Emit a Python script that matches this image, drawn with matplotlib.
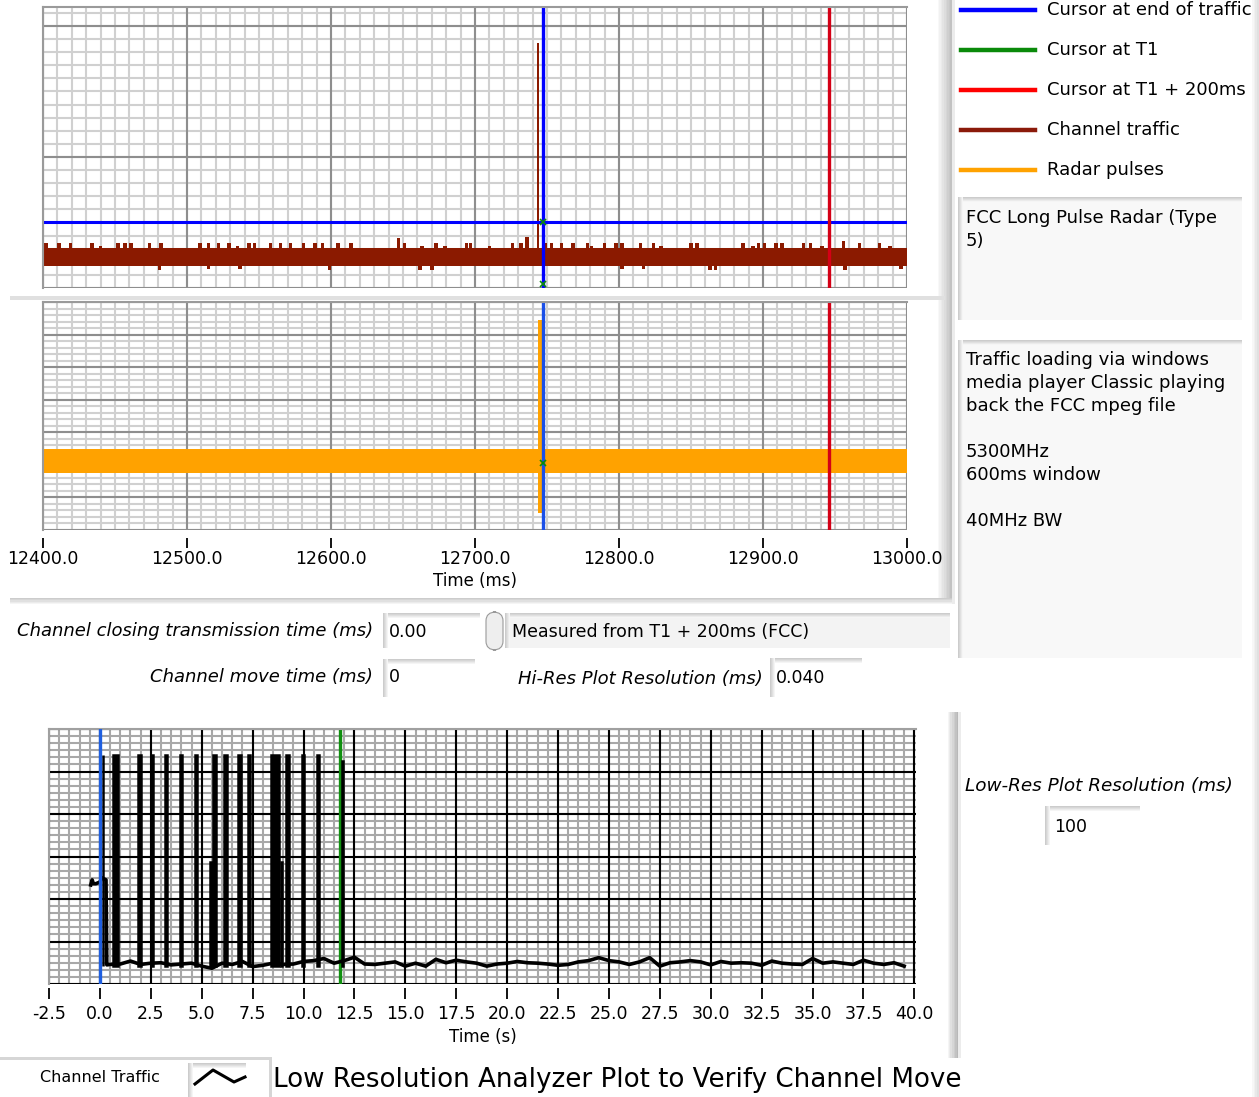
import numpy as np
import matplotlib
matplotlib.use("Agg")
import matplotlib.pyplot as plt
from matplotlib.patches import Rectangle, FancyBboxPatch
from matplotlib.lines import Line2D
from matplotlib.ticker import MultipleLocator, FormatStrFormatter

# --- CONFIGURACION ---
W, H = 1259, 1097
FONT = "DejaVu Sans"

# --- DATOS: ventana de alta resolucion (ms) ---
HI_XMIN, HI_XMAX = 12400.0, 13000.0
CURSOR_END = 12747.0        # cursor azul (fin de trafico)
CURSOR_T1_200 = 12946.0     # cursor rojo (T1 + 200 ms)
CURSOR_LEVEL = 0.50         # cursor azul horizontal

TRAFFIC_LOW, TRAFFIC_HIGH = 0.168, 0.303
traffic_up_t = [12402, 12411, 12419, 12434, 12440, 12452, 12457, 12461, 12474, 12482,
                12509, 12515, 12522, 12529, 12535, 12543, 12547, 12558, 12565, 12572,
                12581, 12589, 12594, 12605, 12614, 12647, 12651, 12663, 12673, 12679,
                12694, 12697, 12710, 12726, 12732, 12736, 12749, 12753, 12760, 12768,
                12778, 12781, 12790, 12798, 12802, 12815, 12824, 12829, 12850, 12854,
                12886, 12893, 12897, 12901, 12909, 12913, 12928, 12933, 12941, 12956,
                12967, 12981, 12988]
traffic_up_h = [0.345, 0.345, 0.345, 0.345, 0.32, 0.345, 0.34, 0.345, 0.345, 0.345,
                0.345, 0.345, 0.345, 0.345, 0.32, 0.345, 0.34, 0.345, 0.345, 0.345,
                0.345, 0.345, 0.345, 0.345, 0.345, 0.385, 0.345, 0.32, 0.345, 0.32,
                0.345, 0.345, 0.32, 0.345, 0.345, 0.39, 0.345, 0.345, 0.345, 0.345,
                0.345, 0.32, 0.345, 0.345, 0.345, 0.345, 0.345, 0.32, 0.345, 0.345,
                0.345, 0.32, 0.345, 0.345, 0.345, 0.345, 0.345, 0.345, 0.32, 0.36,
                0.345, 0.345, 0.32]
traffic_dip_t = [12481, 12515, 12537, 12599, 12662, 12670, 12802, 12817, 12863, 12867,
                 12957, 12996]
traffic_dip_h = [0.14, 0.145, 0.145, 0.14, 0.14, 0.14, 0.145, 0.145, 0.14, 0.14,
                 0.14, 0.145]
TRAFFIC_BURST_T, TRAFFIC_BURST_H = 12744.0, 1.87

RADAR_LOW, RADAR_HIGH = 1.75, 2.48
radar_pulse_t = [12745.2, 12747.6]
radar_pulse_top = [6.44, 6.65]
radar_pulse_bottom = [0.52, 0.52]

# --- DATOS: ventana de baja resolucion (s) ---
LOW_CURSOR_END = 0.0
LOW_CURSOR_T1 = 11.81
lowres_lead_t = [-0.45, -0.38, -0.32, -0.2, 0.0, 0.1, 0.3, 0.34]
lowres_lead_v = [2.33, 2.45, 2.36, 2.36, 2.40, 2.50, 2.45, 0.45]
LOWRES_T0, LOWRES_DT = 0.5, 0.5
lowres_base = [0.46, 0.47, 0.54, 0.46, 0.49, 0.50, 0.45, 0.47, 0.49, 0.42, 0.37, 0.49,
               0.46, 0.53, 0.41, 0.44, 0.49, 0.46, 0.47, 0.53, 0.55, 0.60, 0.49, 0.55,
               0.63, 0.47, 0.46, 0.49, 0.52, 0.42, 0.49, 0.42, 0.58, 0.50, 0.56, 0.52,
               0.49, 0.42, 0.47, 0.49, 0.53, 0.50, 0.49, 0.47, 0.44, 0.46, 0.52, 0.55,
               0.62, 0.55, 0.52, 0.46, 0.52, 0.62, 0.42, 0.50, 0.52, 0.55, 0.52, 0.45,
               0.53, 0.49, 0.50, 0.49, 0.44, 0.54, 0.49, 0.47, 0.46, 0.60, 0.49, 0.52,
               0.49, 0.46, 0.56, 0.49, 0.46, 0.50, 0.42]
lowres_pulse_t = [0.16, 0.76, 1.94, 2.56, 3.25, 3.99, 4.72, 5.46, 5.62, 6.16, 6.85, 7.31,
                  8.58, 8.91, 9.22, 9.98, 10.72, 11.9]
lowres_pulse_h = [5.39, 5.39, 5.39, 5.39, 5.39, 5.39, 5.39, 2.88, 5.39, 5.39, 5.39, 5.39,
                  5.39, 2.88, 5.39, 5.39, 5.39, 5.25]
lowres_pulse_w = [0.03, 0.22, 0.12, 0.12, 0.12, 0.12, 0.12, 0.06, 0.12, 0.12, 0.12, 0.12,
                  0.4, 0.08, 0.12, 0.12, 0.12, 0.03]

legend_labels = ["Cursor at end of traffic", "Cursor at T1", "Cursor at T1 + 200ms",
                 "Channel traffic", "Radar pulses"]
legend_colors = ["#0000ff", "#0a8a0a", "#ff0000", "#8b1a0a", "#ffa200"]

BLUE, RED, GREEN = "#0000ff", "#d40016", "#0a8a0a"
TRAFFIC_RED, ORANGE = "#8b1a00", "#ffa200"

plt.rcParams["font.family"] = [FONT]

fig = plt.figure(figsize=(W / 100, H / 100), dpi=100)
fig.patch.set_facecolor("white")


def rect(x0, y0, x1, y1):
    return [x0 / W, 1 - y1 / H, (x1 - x0) / W, (y1 - y0) / H]


def frect(x0, y0, x1, y1, color, z=-5):
    fig.add_artist(Rectangle((x0 / W, 1 - y1 / H), (x1 - x0) / W, (y1 - y0) / H,
                             transform=fig.transFigure, facecolor=color,
                             edgecolor="none", zorder=z))


def grad(x0, y0, x1, y1, g0, g1, horizontal=True, n=8):
    for i in range(n):
        g = g0 + (g1 - g0) * i / (n - 1)
        if horizontal:
            frect(x0 + (x1 - x0) * i / n, y0, x0 + (x1 - x0) * (i + 1) / n, y1, (g, g, g))
        else:
            frect(x0, y0 + (y1 - y0) * i / n, x1, y0 + (y1 - y0) * (i + 1) / n, (g, g, g))


def inset_box(x0, y0, x1, y1, fill="#f8f8f8"):
    frect(x0, y0, x1, y1, fill)
    grad(x0, y0, x1, y0 + 5, 0.80, 0.96, horizontal=False, n=5)
    grad(x0, y0, x0 + 5, y1, 0.80, 0.96, horizontal=True, n=5)


def ftext(x, y, s, **kw):
    kw.setdefault("va", "center")
    return fig.text(x / W, 1 - y / H, s, **kw)


def grafico(box, xlim, ylim, xmaj, xmin, ymaj, ymin, c_major, c_minor, c_frame):
    # fondo con la rejilla menor, y encima los ejes con la rejilla mayor y los datos
    bg = fig.add_axes(rect(*box), zorder=0)
    ax = fig.add_axes(rect(*box), zorder=1)
    for a in (bg, ax):
        a.set_xlim(*xlim)
        a.set_ylim(*ylim)
        a.xaxis.set_major_locator(MultipleLocator(xmaj))
        a.xaxis.set_minor_locator(MultipleLocator(xmin))
        a.yaxis.set_major_locator(MultipleLocator(ymaj))
        a.yaxis.set_minor_locator(MultipleLocator(ymin))
        a.tick_params(axis="y", which="both", length=0, labelleft=False)
        a.spines["right"].set_visible(False)
        a.spines["bottom"].set_visible(False)
    bg.grid(which="both", color=c_minor, lw=1.5)
    bg.tick_params(axis="x", which="both", length=0, labelbottom=False)
    bg.spines["left"].set_visible(False)
    bg.spines["top"].set_visible(False)
    ax.set_facecolor("none")
    ax.grid(which="major", color=c_major, lw=1.5)
    ax.set_axisbelow(True)
    for s in ("left", "top"):
        ax.spines[s].set_color(c_frame)
        ax.spines[s].set_linewidth(1.5)
    return ax


# --- PANELES / BISELES ---
grad(936, 0, 952, 604, 1.0, 0.76, horizontal=True, n=10)
frect(952, 0, 955, 604, "#ececec")
grad(10, 598, 952, 605, 0.80, 1.0, horizontal=False, n=6)
frect(10, 296, 945, 300, "#e0e0e0")
grad(946, 712, 958, 1058, 1.0, 0.72, horizontal=True, n=8)
frect(958, 712, 961, 1058, "#ececec")
frect(0, 1057, 272, 1060, "#d6d6d6")
frect(269, 1057, 272, 1097, "#d6d6d6")
grad(1250, 0, 1259, H, 1.0, 0.88, horizontal=True, n=5)

# --- GRAFICO 1: trafico de canal ---
ax1 = grafico((43, 7, 907, 288), (HI_XMIN, HI_XMAX), (0, 2.145), 100, 10, 1, 0.1,
              "#8e8e8e", "#d0d0d0", "#9a9a9a")
ax1.tick_params(axis="x", which="both", length=0, labelbottom=False)

ax1.fill_between([HI_XMIN, HI_XMAX], TRAFFIC_LOW, TRAFFIC_HIGH, color=TRAFFIC_RED, lw=0)
ax1.bar(traffic_up_t, np.array(traffic_up_h) - TRAFFIC_HIGH + 0.01, bottom=TRAFFIC_HIGH - 0.01,
        width=2.5, color=TRAFFIC_RED, lw=0)
ax1.bar(traffic_dip_t, TRAFFIC_LOW + 0.01 - np.array(traffic_dip_h), bottom=traffic_dip_h,
        width=2.5, color=TRAFFIC_RED, lw=0)
ax1.bar([TRAFFIC_BURST_T], [TRAFFIC_BURST_H - TRAFFIC_HIGH], bottom=TRAFFIC_HIGH,
        width=1.3, color=TRAFFIC_RED, lw=0)
ax1.axhline(CURSOR_LEVEL, color=BLUE, lw=2.2)
ax1.axvline(CURSOR_END, color=BLUE, lw=2.4)
ax1.axvline(CURSOR_T1_200, color=RED, lw=2.4)
ax1.plot([CURSOR_END], [CURSOR_LEVEL], marker="x", color=GREEN, ms=5, mew=1.2)
ax1.plot([CURSOR_END], [0.03], marker="x", color=GREEN, ms=4, mew=1.2, clip_on=False)

# --- GRAFICO 2: pulsos de radar ---
ax2 = grafico((43, 302, 907, 530), (HI_XMIN, HI_XMAX), (0, 7), 100, 10, 1, 0.2,
              "#8e8e8e", "#d0d0d0", "#9a9a9a")
ax2.spines["bottom"].set_position(("outward", 6))
ax2.xaxis.set_major_formatter(FormatStrFormatter("%.1f"))
ax2.tick_params(axis="x", which="major", direction="out", length=7, width=1.3,
                color="black", pad=1.5, labelsize=12.5)
ax2.tick_params(axis="x", which="minor", length=0)
ax2.set_xlabel("Time (ms)", fontsize=12, labelpad=3)

ax2.fill_between([HI_XMIN, HI_XMAX], RADAR_LOW, RADAR_HIGH, color=ORANGE, lw=0)
ax2.bar(radar_pulse_t, np.array(radar_pulse_top) - np.array(radar_pulse_bottom),
        bottom=radar_pulse_bottom, width=2.6, color=ORANGE, lw=0)
ax2.axvline(CURSOR_END, color="#1a4fe8", lw=2.4)
ax2.axvline(CURSOR_T1_200, color=RED, lw=2.4)
ax2.plot([CURSOR_END], [2.05], marker="x", color=GREEN, ms=5, mew=1.2)

# --- GRAFICO 3: baja resolucion ---
lowres_t = LOWRES_T0 + LOWRES_DT * np.arange(len(lowres_base))
trace_t = np.concatenate([lowres_lead_t, lowres_t])
trace_v = np.concatenate([lowres_lead_v, lowres_base])

ax3 = grafico((49, 729, 916, 984), (-2.5, 40.08), (0, 6), 2.5, 0.5, 1, 1 / 6,
              "black", "#a8a8a8", "#a0a0a0")
ax3.spines["bottom"].set_position(("outward", 3))
ax3.xaxis.set_major_formatter(FormatStrFormatter("%.1f"))
ax3.tick_params(axis="x", which="major", direction="out", length=8, width=1.3,
                color="black", pad=4, labelsize=12.5)
ax3.tick_params(axis="x", which="minor", length=0)
ax3.set_xlabel("Time (s)", fontsize=12, labelpad=4)

ax3.bar(lowres_pulse_t, np.array(lowres_pulse_h) - 0.42, bottom=0.42, width=lowres_pulse_w,
        color="black", edgecolor="black", lw=1.8, zorder=3)
ax3.plot(trace_t, trace_v, color="black", lw=2.6, zorder=3)
ax3.axvline(LOW_CURSOR_END, color="#1f5fe0", lw=2.4, zorder=4)
ax3.axvline(LOW_CURSOR_T1, color="#109010", lw=2.4, zorder=2)

# --- LEYENDA ---
for i, (lab, col) in enumerate(zip(legend_labels, legend_colors)):
    y = 10 + 40 * i
    fig.add_artist(Line2D([961 / W, 1035 / W], [1 - y / H] * 2, color=col, lw=3.2,
                          transform=fig.transFigure))
    ftext(1047, y, lab, fontsize=13)

# --- CAJAS DE TEXTO ---
inset_box(958, 197, 1242, 320)
ftext(966, 209, "FCC Long Pulse Radar (Type\n5)", fontsize=13, va="top", linespacing=1.36)
inset_box(958, 340, 1242, 658)
ftext(966, 351, "Traffic loading via windows\nmedia player Classic playing\n"
      "back the FCC mpeg file\n\n5300MHz\n600ms window\n\n40MHz BW",
      fontsize=13, va="top", linespacing=1.36)

# --- CONTROLES ---
ftext(373, 631, "Channel closing transmission time (ms)", fontsize=13,
      style="italic", ha="right")
inset_box(383, 613, 480, 648, fill="white")
ftext(389, 632, "0.00", fontsize=12.5)
fig.add_artist(FancyBboxPatch((486 / W, 1 - 650 / H), 17 / W, 38 / H,
                              boxstyle="round,pad=0,rounding_size=0.008",
                              transform=fig.transFigure, facecolor="#eeeeee",
                              edgecolor="#9a9a9a", lw=0.8))
inset_box(505, 613, 950, 648, fill="#f3f3f3")
ftext(512, 632, "Measured from T1 + 200ms (FCC)", fontsize=12.5)

ftext(373, 677, "Channel move time (ms)", fontsize=13, style="italic", ha="right")
inset_box(383, 659, 475, 697, fill="white")
ftext(389, 677, "0", fontsize=12.5)
ftext(763, 679, "Hi-Res Plot Resolution (ms)", fontsize=13, style="italic", ha="right")
inset_box(770, 658, 862, 697, fill="white")
ftext(776, 678, "0.040", fontsize=12.5)

ftext(965, 786, "Low-Res Plot Resolution (ms)", fontsize=13.2, style="italic")
inset_box(1045, 806, 1140, 845, fill="white")
ftext(1054, 827, "100", fontsize=12.5)

# --- LEYENDA INFERIOR ---
ftext(40, 1078, "Channel Traffic", fontsize=11.5)
inset_box(188, 1063, 246, 1097, fill="white")
fig.add_artist(Line2D(np.array([195, 213, 234, 245]) / W,
                      1 - np.array([1084, 1070, 1082, 1077]) / H,
                      color="black", lw=2.2, transform=fig.transFigure))
ftext(273, 1080, "Low Resolution Analyzer Plot to Verify Channel Move", fontsize=18.8)

fig.savefig("out.png", dpi=100)
plt.close(fig)
